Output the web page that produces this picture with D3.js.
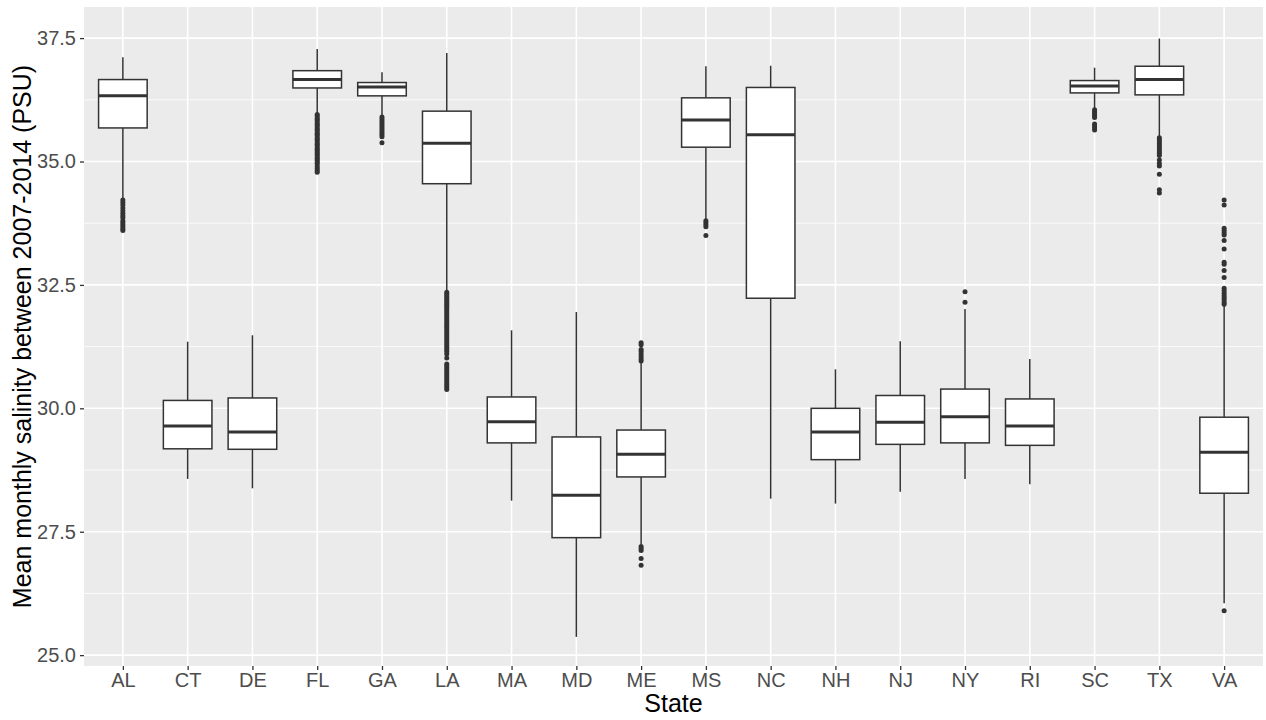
<!DOCTYPE html>
<html>
<head>
<meta charset="utf-8">
<script src="https://cdn.jsdelivr.net/npm/d3@7"></script>
<style>
  html, body { margin: 0; padding: 0; background: #ffffff; }
  svg { display: block; font-family: "Liberation Sans", Arial, sans-serif; }
</style>
</head>
<body>
<svg id="chart" width="1266" height="720"></svg>
<script>
// ---- Data ----
const states = ["AL","CT","DE","FL","GA","LA","MA","MD","ME","MS","NC","NH","NJ","NY","RI","SC","TX","VA"];
const whiskerLow  = [34.24, 28.57, 28.38, 35.98, 35.93, 32.37, 28.13, 25.37, 27.24, 33.83, 28.17, 28.07, 28.31, 28.57, 28.46, 36.08, 35.50, 26.05];
const q1          = [35.68, 29.18, 29.17, 36.49, 36.33, 34.55, 29.30, 27.38, 28.61, 35.29, 32.23, 28.96, 29.27, 29.30, 29.25, 36.39, 36.35, 28.28];
const medians     = [36.33, 29.64, 29.52, 36.66, 36.51, 35.37, 29.73, 28.24, 29.07, 35.84, 35.54, 29.52, 29.72, 29.83, 29.64, 36.53, 36.66, 29.11];
const q3          = [36.66, 30.16, 30.21, 36.84, 36.60, 36.02, 30.23, 29.42, 29.56, 36.29, 36.50, 30.00, 30.26, 30.39, 30.19, 36.64, 36.93, 29.82];
const whiskerHigh = [37.11, 31.35, 31.48, 37.28, 36.81, 37.20, 31.58, 31.95, 30.94, 36.93, 36.94, 30.79, 31.36, 32.01, 31.00, 36.90, 37.49, 32.09];
const outlierValues = [
  [34.22, 34.17, 34.12, 34.06, 34.00, 33.95, 33.90, 33.86, 33.80, 33.76, 33.72, 33.68, 33.64, 33.60],
  [],
  [],
  [35.95, 35.92, 35.88, 35.85, 35.82, 35.78, 35.75, 35.72, 35.68, 35.65, 35.62, 35.58, 35.55, 35.52, 35.48, 35.45, 35.42, 35.38, 35.35, 35.32, 35.28, 35.25, 35.22, 35.18, 35.15, 35.12, 35.08, 35.05, 35.02, 34.98, 34.95, 34.90, 34.86, 34.82, 34.78],
  [35.90, 35.86, 35.82, 35.78, 35.74, 35.70, 35.66, 35.62, 35.58, 35.54, 35.50, 35.38],
  [32.35, 32.31, 32.27, 32.23, 32.19, 32.15, 32.11, 32.07, 32.03, 31.99, 31.95, 31.91, 31.87, 31.83, 31.79, 31.75, 31.71, 31.67, 31.63, 31.59, 31.55, 31.51, 31.47, 31.43, 31.39, 31.35, 31.31, 31.27, 31.23, 31.19, 31.15, 31.10, 31.02, 30.90, 30.86, 30.82, 30.78, 30.74, 30.70, 30.66, 30.62, 30.58, 30.54, 30.50, 30.46, 30.42, 30.38],
  [],
  [],
  [31.33, 31.29, 31.19, 31.15, 31.10, 31.05, 31.00, 30.96, 27.20, 27.16, 27.12, 26.96, 26.82],
  [33.80, 33.76, 33.72, 33.68, 33.50],
  [],
  [],
  [],
  [32.36, 32.15],
  [],
  [36.05, 36.01, 35.97, 35.93, 35.89, 35.76, 35.72, 35.68, 35.64],
  [35.48, 35.44, 35.40, 35.36, 35.32, 35.28, 35.24, 35.20, 35.16, 35.12, 35.03, 34.96, 34.91, 34.74, 34.43, 34.36],
  [34.22, 34.12, 33.65, 33.60, 33.55, 33.51, 33.40, 33.23, 32.96, 32.92, 32.79, 32.65, 32.43, 32.38, 32.33, 32.28, 32.24, 32.20, 32.15, 32.11, 25.90]
];
const yTicks = [25.0, 27.5, 30.0, 32.5, 35.0, 37.5];
const yMinorTicks = [26.25, 28.75, 31.25, 33.75, 36.25];
const xTitle = "State";
const yTitle = "Mean monthly salinity between 2007-2014 (PSU)";

// ---- Layout ----
const svg = d3.select("#chart");
const W = 1266, H = 720;
const panel = { left: 84, right: 1263, top: 7, bottom: 666 };

const x = d3.scalePoint().domain(states).range([panel.left, panel.right]).padding(0.6);
const y = d3.scaleLinear().domain([24.78, 38.13]).range([panel.bottom, panel.top]);
const boxW = x.step() * 0.75;

svg.append("rect").attr("width", W).attr("height", H).attr("fill", "#ffffff");
svg.append("rect")
  .attr("x", panel.left).attr("y", panel.top)
  .attr("width", panel.right - panel.left).attr("height", panel.bottom - panel.top)
  .attr("fill", "#EBEBEB");

const grid = svg.append("g");
grid.selectAll("line.minor").data(yMinorTicks).enter().append("line")
  .attr("x1", panel.left).attr("x2", panel.right)
  .attr("y1", d => y(d)).attr("y2", d => y(d))
  .attr("stroke", "#ffffff").attr("stroke-width", 0.8);
grid.selectAll("line.majory").data(yTicks).enter().append("line")
  .attr("x1", panel.left).attr("x2", panel.right)
  .attr("y1", d => y(d)).attr("y2", d => y(d))
  .attr("stroke", "#ffffff").attr("stroke-width", 1.6);
grid.selectAll("line.majorx").data(states).enter().append("line")
  .attr("y1", panel.top).attr("y2", panel.bottom)
  .attr("x1", d => x(d)).attr("x2", d => x(d))
  .attr("stroke", "#ffffff").attr("stroke-width", 1.6);

// ---- Boxes ----
const rows = states.map((s, i) => ({
  s, lo: whiskerLow[i], q1: q1[i], med: medians[i], q3: q3[i], hi: whiskerHigh[i], out: outlierValues[i]
}));
const g = svg.append("g");
const col = "#333333";
rows.forEach(r => {
  const cx = x(r.s);
  g.append("line").attr("x1", cx).attr("x2", cx).attr("y1", y(r.q3)).attr("y2", y(r.hi))
    .attr("stroke", col).attr("stroke-width", 1.5);
  g.append("line").attr("x1", cx).attr("x2", cx).attr("y1", y(r.q1)).attr("y2", y(r.lo))
    .attr("stroke", col).attr("stroke-width", 1.5);
  g.append("rect").attr("x", cx - boxW / 2).attr("width", boxW)
    .attr("y", y(r.q3)).attr("height", y(r.q1) - y(r.q3))
    .attr("fill", "#ffffff").attr("stroke", col).attr("stroke-width", 1.5);
  g.append("line").attr("x1", cx - boxW / 2).attr("x2", cx + boxW / 2)
    .attr("y1", y(r.med)).attr("y2", y(r.med))
    .attr("stroke", col).attr("stroke-width", 3);
  g.selectAll(null).data(r.out).enter().append("circle")
    .attr("cx", cx).attr("cy", d => y(d)).attr("r", 2.5).attr("fill", col);
});

// ---- Axes ----
const yAxis = svg.append("g").attr("transform", `translate(${panel.left},0)`)
  .call(d3.axisLeft(y).tickValues(yTicks).tickFormat(d3.format(".1f")).tickSize(4).tickPadding(4));
const xAxis = svg.append("g").attr("transform", `translate(0,${panel.bottom})`)
  .call(d3.axisBottom(x).tickSize(4).tickPadding(3));
[yAxis, xAxis].forEach(a => {
  a.select(".domain").remove();
  a.selectAll(".tick line").attr("stroke", col).attr("stroke-width", 1.3);
  a.selectAll(".tick text").attr("fill", "#4D4D4D").style("font-size", "20px")
    .style("font-family", "'Liberation Sans', Arial, sans-serif");
});

svg.append("text").attr("x", (panel.left + panel.right) / 2).attr("y", 712)
  .attr("text-anchor", "middle").attr("fill", "#000").style("font-size", "25px").text(xTitle);
svg.append("text").attr("transform", `translate(31,${(panel.top + panel.bottom) / 2}) rotate(-90)`)
  .attr("text-anchor", "middle").attr("fill", "#000").style("font-size", "25px").text(yTitle);
</script>
</body>
</html>
